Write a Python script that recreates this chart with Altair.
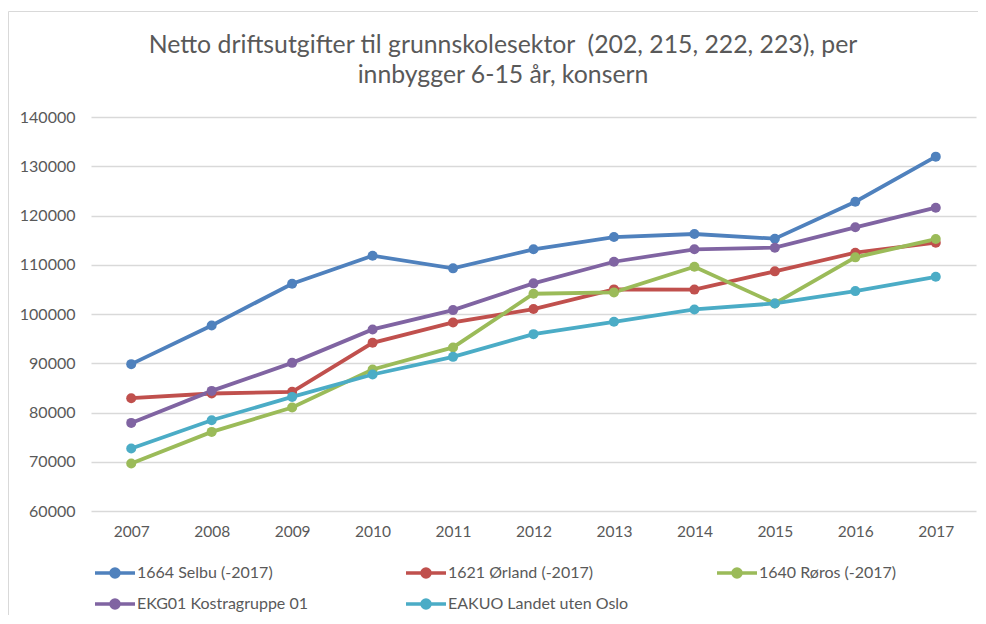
import altair as alt
import pandas as pd

years = [2007, 2008, 2009, 2010, 2011, 2012, 2013, 2014, 2015, 2016, 2017]
series_names = [
    "1664 Selbu (-2017)",
    "1621 Ørland (-2017)",
    "1640 Røros (-2017)",
    "EKG01 Kostragruppe 01",
    "EAKUO Landet uten Oslo",
]
selbu = [89820, 97680, 106140, 111830, 109270, 113130, 115630, 116240, 115290, 122800, 131950]
orland = [82910, 83860, 84190, 94150, 98290, 101000, 105000, 104950, 108660, 112440, 114470]
roros = [69630, 76060, 81020, 88740, 93210, 104110, 104390, 109590, 102150, 111500, 115220]
kostra = [77890, 84390, 90080, 96870, 100790, 106220, 110610, 113130, 113460, 117600, 121580]
eakuo = [72680, 78430, 83170, 87720, 91300, 95910, 98410, 100930, 102150, 104650, 107560]
colors = ["#4f81bd", "#c0504d", "#9bbb59", "#8064a2", "#4bacc6"]
y_ticks = [60000, 70000, 80000, 90000, 100000, 110000, 120000, 130000, 140000]
title_lines = [
    "Netto driftsutgifter til grunnskolesektor\u00a0 (202, 215, 222, 223), per",
    "innbygger 6-15 år, konsern",
]

rows = []
for i, (name, vals) in enumerate(zip(series_names, [selbu, orland, roros, kostra, eakuo])):
    for yr, v in zip(years, vals):
        rows.append({"year": str(yr), "series": name, "value": v, "ord": i})
df = pd.DataFrame(rows)

FONT = "Lato"
TXT = "#595959"

color = alt.Color(
    "series:N",
    scale=alt.Scale(domain=series_names, range=colors),
    legend=alt.Legend(
        title=None,
        orient="none",
        legendX=12,
        legendY=444,
        direction="horizontal",
        columns=3,
        columnPadding=81,
        rowPadding=8,
        gridAlign="all",
        symbolType="M-2,0L2,0M-0.4,0A0.4,0.4,0,1,0,0.4,0A0.4,0.4,0,1,0,-0.4,0Z",
        symbolSize=400,
        symbolStrokeWidth=3.5,
        labelFont=FONT,
        labelFontSize=16,
        labelColor=TXT,
        labelOffset=10,
        labelLimit=300,
    ),
)

x = alt.X(
    "year:O",
    scale=alt.Scale(padding=0.5),
    axis=alt.Axis(
        title=None,
        labelAngle=0,
        domain=False,
        ticks=False,
        labelPadding=13,
        labelFont=FONT,
        labelFontSize=15.5,
        labelColor=TXT,
        grid=False,
    ),
)
y = alt.Y(
    "value:Q",
    scale=alt.Scale(domain=[60000, 140000], nice=False, zero=False),
    axis=alt.Axis(
        title=None,
        values=y_ticks,
        format="d",
        domain=False,
        ticks=False,
        labelPadding=16,
        labelFont=FONT,
        labelFontSize=16,
        labelColor=TXT,
        gridColor="#d9d9d9",
        gridWidth=1.3,
    ),
)

base = alt.Chart(df)
lines = base.mark_line(strokeWidth=3.8).encode(
    x=x, y=y, color=color, order=alt.Order("year:O")
)
points = base.mark_circle(size=100, opacity=1).encode(
    x=x, y=y, color=color, order=alt.Order("ord:Q")
)

one = pd.DataFrame({"a": [0]})
frame = alt.Chart(one).mark_rect(
    filled=False, stroke="#d9d9d9", strokeWidth=1
).encode(
    x=alt.value(-82.5), x2=alt.value(900), y=alt.value(-105.5), y2=alt.value(520)
)
title = alt.Chart(one).mark_text(
    text=title_lines,
    font=FONT,
    fontSize=24.8,
    color=TXT,
    align="center",
    baseline="alphabetic",
    lineHeight=30,
).encode(x=alt.value(412), y=alt.value(-64))

chart = (
    alt.layer(frame, title, lines, points)
    .properties(
        width=885,
        height=394,
        padding={"left": 83, "top": 109, "right": 2, "bottom": 104},
        autosize=alt.AutoSizeParams(type="none"),
    )
    .configure_view(stroke=None)
)

chart.save("out.html", embed_options={"renderer": "svg", "actions": False})
